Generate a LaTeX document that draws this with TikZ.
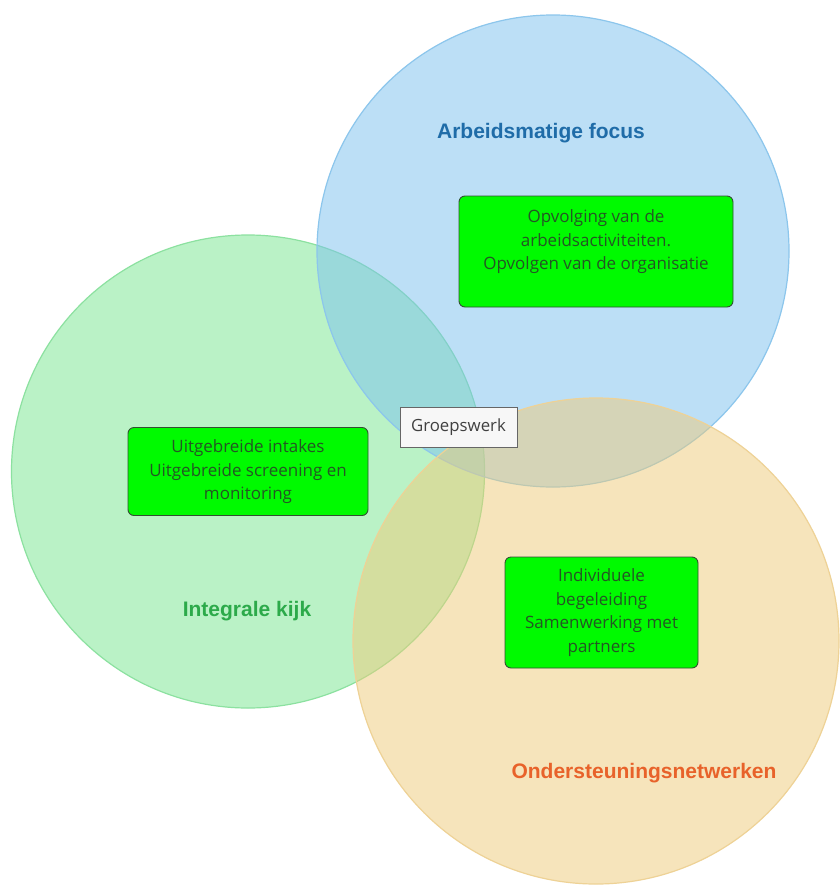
\documentclass[tikz,border=0pt]{standalone}
\usepackage{fontspec}
\setmainfont{Liberation Sans}
\newfontfamily\boxfont{Open Sans}
\definecolor{cblue}{RGB}{123,193,239}
\definecolor{cgreen}{RGB}{119,231,143}
\definecolor{corange}{RGB}{239,203,121}
\definecolor{sblue}{RGB}{140,198,236}
\definecolor{sgreen}{RGB}{140,225,160}
\definecolor{sorange}{RGB}{238,210,150}
\definecolor{tblue}{RGB}{31,108,168}
\definecolor{tgreen}{RGB}{44,170,74}
\definecolor{torange}{RGB}{232,98,42}
\definecolor{boxgreen}{RGB}{0,250,0}
\definecolor{boxtext}{RGB}{36,86,36}
\definecolor{boxline}{RGB}{50,80,50}
\tikzset{
  venn/.style={circle, inner sep=0pt, minimum size=#1, fill opacity=0.5, line width=1.2pt},
  title/.style={font=\bfseries\fontsize{21}{25}\selectfont, inner sep=0pt},
  gbox/.style={draw=boxline, fill=boxgreen, rounded corners=6pt, line width=0.9pt, inner sep=0pt},
  gtext/.style={align=center, text=boxtext, inner sep=0pt, font={\boxfont\fontsize{17}{23.5}\selectfont}},
  wbox/.style={draw=black!60, fill=black!3, line width=0.9pt, inner sep=0pt, text=black!75,
    font={\boxfont\fontsize{16.8}{20}\selectfont}}
}
\begin{document}
\begin{tikzpicture}[x=1pt,y=-1pt]
\useasboundingbox (0,0) rectangle (839,886);
\fill[white] (0,0) rectangle (839,886);
% circles
\node[venn=473pt, fill=cgreen, draw=sgreen] (cg) at (248,471.5) {};
\node[venn=472pt, fill=cblue, draw=sblue] (cb) at (553,251) {};
\node[venn=486pt, fill=corange, draw=sorange] (co) at (596,641) {};
% titles
\node[title, text=tblue] (ta) at (541,133) {Arbeidsmatige focus};
\node[title, text=tgreen] (ti) at (247,611) {Integrale kijk};
\node[title, text=torange] (to) at (644,773) {Ondersteuningsnetwerken};
% green boxes
\node[gbox, minimum width=274pt, minimum height=111pt] (b1) at (596,251.5) {};
\node[gtext] (t1) at (596,242) {Opvolging van de\\arbeidsactiviteiten.\\Opvolgen van de organisatie};
\node[gbox, minimum width=240pt, minimum height=88pt] (b2) at (248,471.5) {};
\node[gtext] (t2) at (248,472) {Uitgebreide intakes\\Uitgebreide screening en\\monitoring};
\node[gbox, minimum width=193pt, minimum height=111pt] (b3) at (601.5,612.5) {};
\node[gtext] (t3) at (601.5,612.5) {Individuele\\begeleiding\\Samenwerking met\\partners};
% Groepswerk
\node[wbox, minimum width=117pt, minimum height=40pt] (gw) at (458.5,427) {Groepswerk};
\end{tikzpicture}
\end{document}
